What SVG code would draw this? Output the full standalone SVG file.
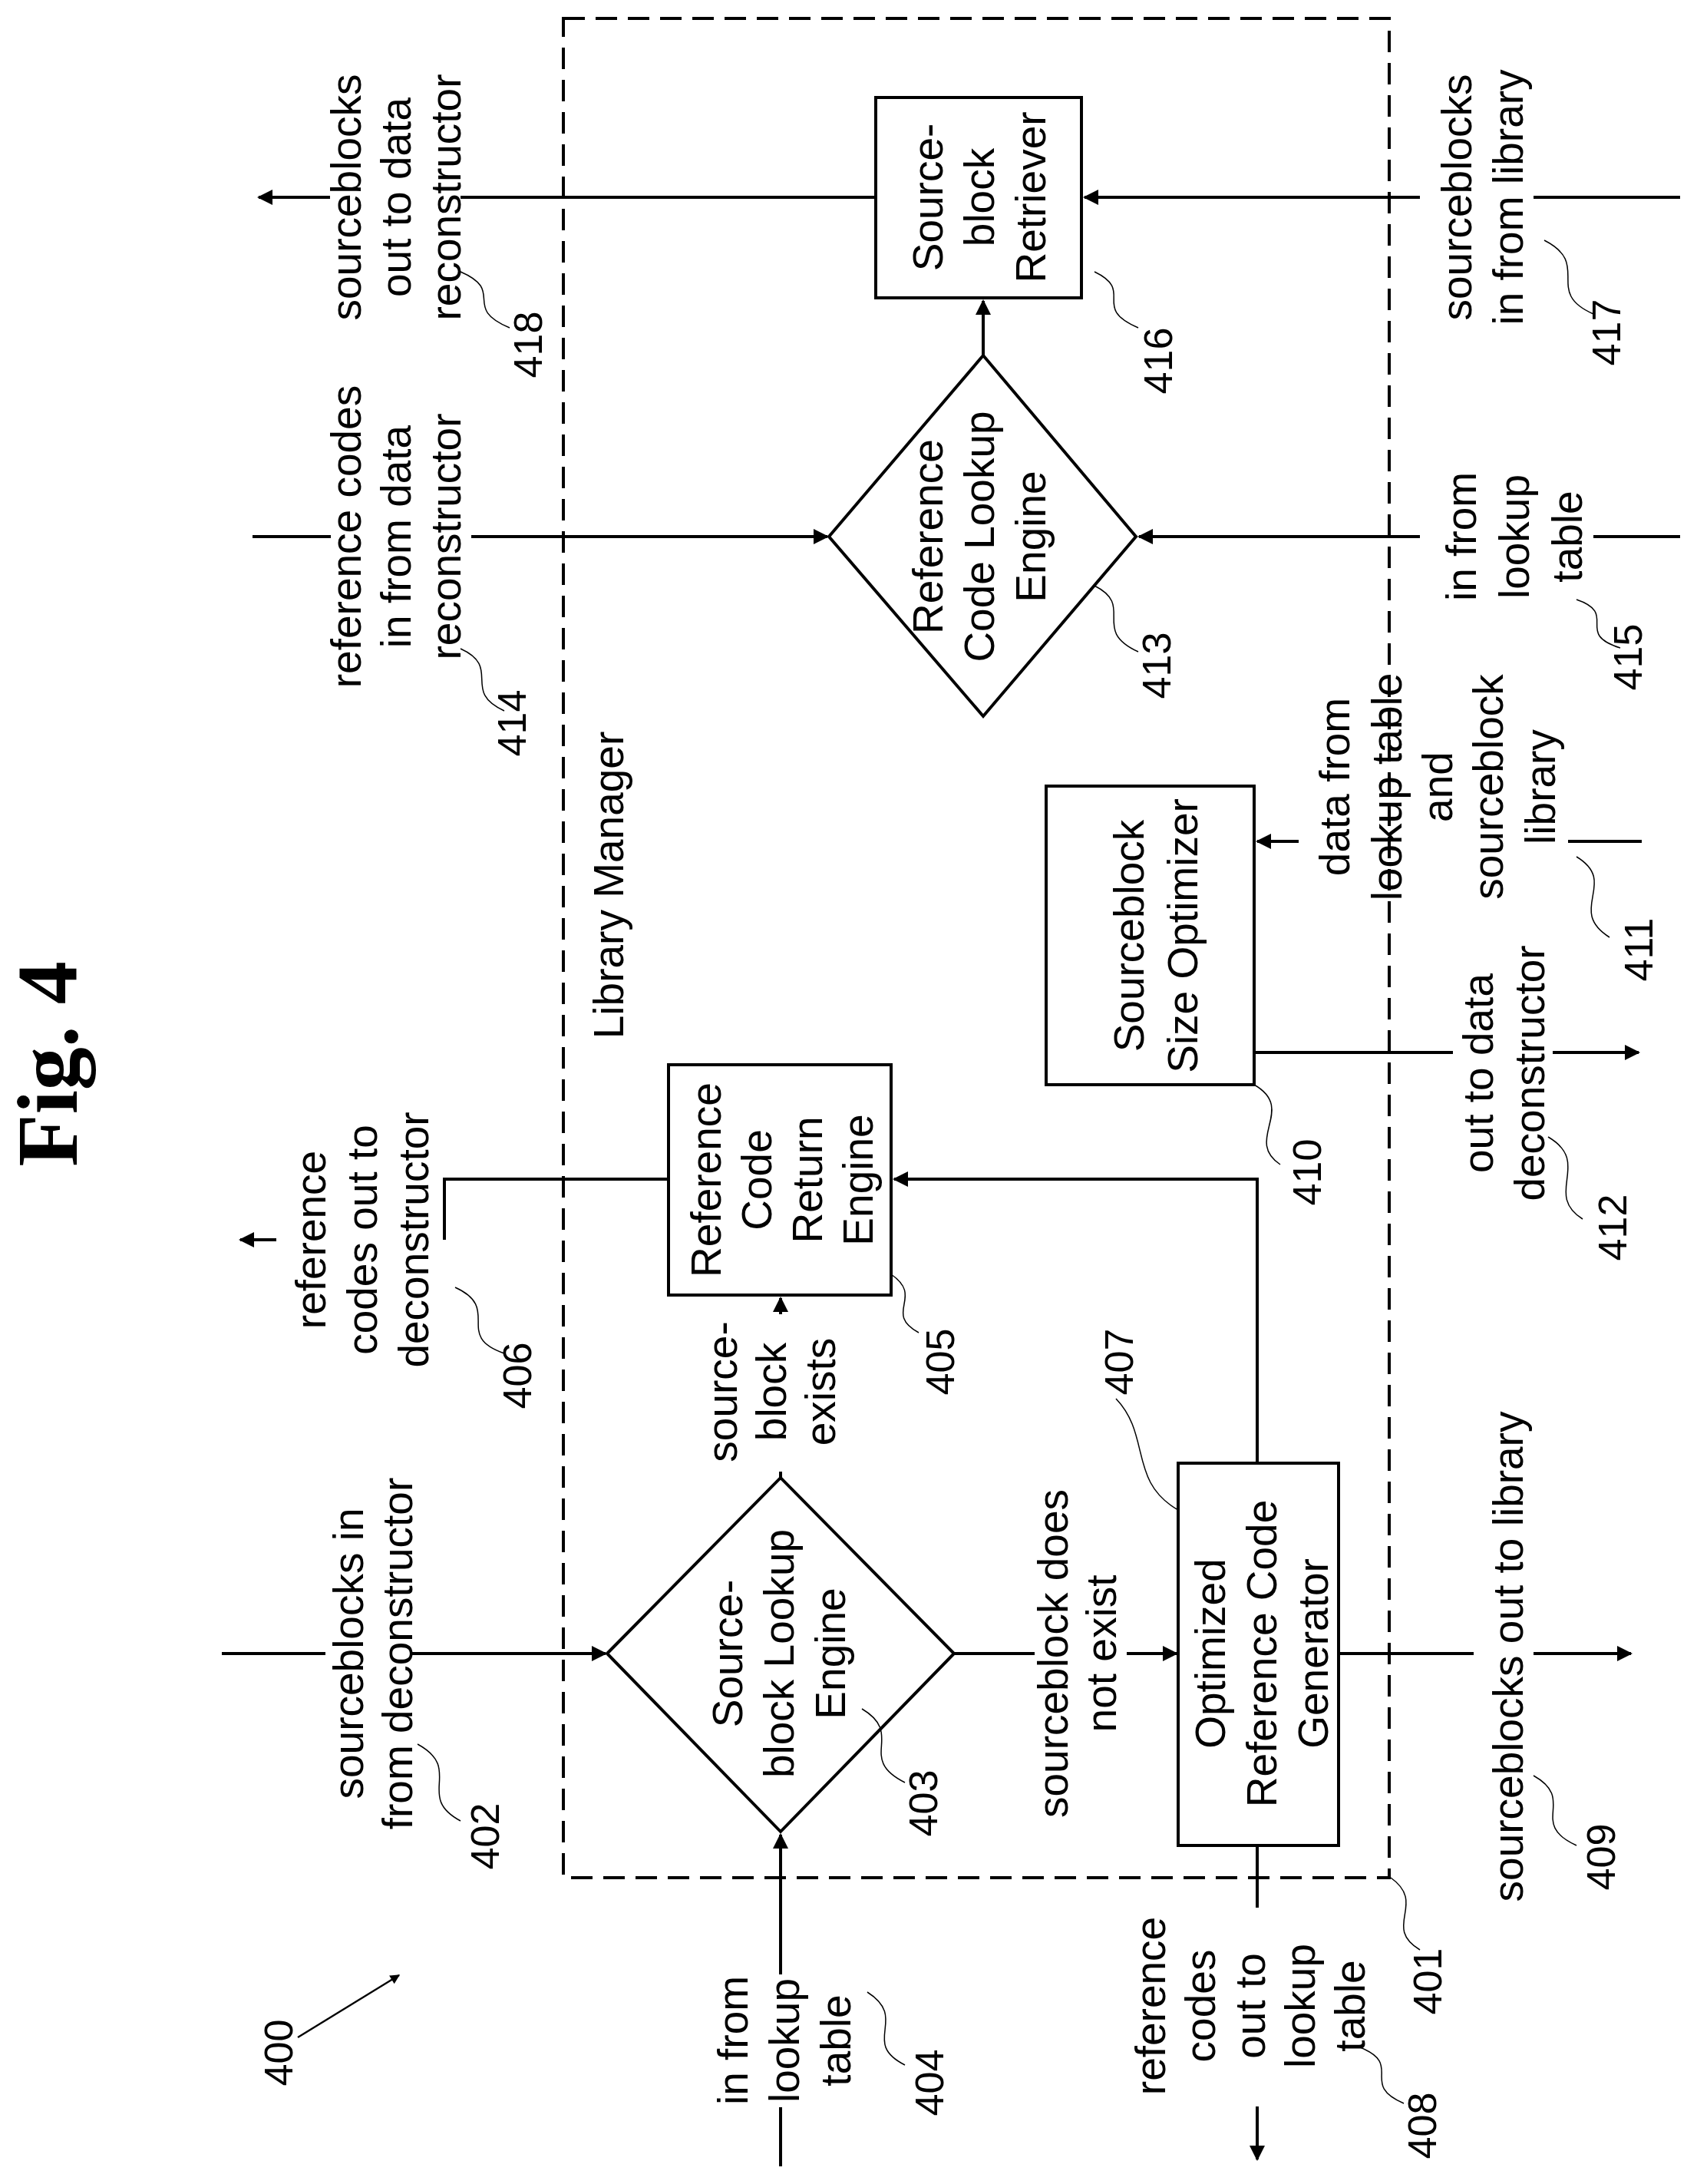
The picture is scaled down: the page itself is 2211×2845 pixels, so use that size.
<svg xmlns="http://www.w3.org/2000/svg" width="2211" height="2845" viewBox="0 0 2211 2845">
<style>
text{font-family:"Liberation Sans",Arial,sans-serif;font-size:55px;fill:#000;text-anchor:middle}
.num{font-size:52px}
.fig{font-family:"Liberation Serif",serif;font-weight:bold;font-size:112px}
.box{fill:#fff;stroke:#000;stroke-width:4}
.c{fill:none;stroke:#000;stroke-width:4}
.a{fill:none;stroke:#000;stroke-width:4;marker-end:url(#ah)}
.sq{fill:none;stroke:#000;stroke-width:1.5}
.dash{fill:none;stroke:#000;stroke-width:4;stroke-dasharray:28,14}
</style>
<defs>
<marker id="ah" viewBox="0 0 10 10" refX="9" refY="5" markerWidth="6" markerHeight="5" orient="auto" markerUnits="strokeWidth">
<path d="M0,0 L10,5 L0,10 z" fill="#000"/>
</marker>
</defs>
<rect width="2211" height="2845" fill="#fff"/>
<text class="fig" transform="translate(100,1386) rotate(-90)">Fig. 4</text>
<g id="n401">
<rect class="dash" x="734" y="24" width="1076" height="2422"/>
<text transform="translate(812,1153) rotate(-90)">Library Manager</text>
<text class="num" transform="translate(1878,2581) rotate(-90)">401</text>
<path class="sq" d="M1812,2446 C1860,2480 1800,2510 1850,2540"/>
</g>
<g id="connectors">
<path class="c" d="M1141,257 L600,257"/><path class="a" d="M430,257 L337,257"/>
<path class="c" d="M2189,257 L1998,257"/><path class="a" d="M1850,257 L1413,257"/>
<path class="a" d="M1281,463 L1281,392"/>
<path class="c" d="M329,699 L431,699"/><path class="a" d="M614,699 L1078,699"/>
<path class="c" d="M2189,699 L2076,699"/><path class="a" d="M1850,699 L1484,699"/>
<path class="a" d="M1692,1096 L1638,1096"/><path class="c" d="M2043,1096 L2139,1096"/>
<path class="c" d="M1634,1371 L1893,1371"/><path class="a" d="M2023,1371 L2135,1371"/>
<path class="c" d="M871,1536 L579,1536 L579,1615"/><path class="a" d="M360,1615 L313,1615"/>
<path class="a" d="M1638,1906 L1638,1536 L1165,1536"/>
<path class="c" d="M1017,1925 L1017,1917"/><path class="a" d="M1017,1712 L1017,1691"/>
<path class="c" d="M289,2154 L424,2154"/><path class="a" d="M537,2154 L789,2154"/>
<path class="c" d="M1243,2154 L1348,2154"/><path class="a" d="M1468,2154 L1533,2154"/>
<path class="c" d="M1744,2154 L1920,2154"/><path class="a" d="M1998,2154 L2125,2154"/>
<path class="a" d="M1017,2572 L1017,2390"/><path class="c" d="M1017,2822 L1017,2745"/>
<path class="c" d="M1638,2404 L1638,2485"/><path class="a" d="M1638,2744 L1638,2813"/>
<path class="c" d="M388,2654 L520,2573" style="stroke-width:2.5;marker-end:url(#ah)"/>
</g>
<g id="n416">
<rect class="box" x="1141" y="127" width="268" height="261"/>
<text transform="translate(1228,257) rotate(-90)"><tspan x="0">Source-</tspan><tspan x="0" dy="67">block</tspan><tspan x="0" dy="67">Retriever</tspan></text>
<text class="num" transform="translate(1527,470) rotate(-90)">416</text>
<path class="sq" d="M1426,354 C1480,380 1420,400 1483,427"/>
</g>
<g id="n413">
<polygon class="box" points="1080,699 1281,463 1480,699 1281,933"/>
<text transform="translate(1228,699) rotate(-90)"><tspan x="0">Reference</tspan><tspan x="0" dy="67">Code Lookup</tspan><tspan x="0" dy="67">Engine</tspan></text>
<text class="num" transform="translate(1525,867) rotate(-90)">413</text>
<path class="sq" d="M1426,763 C1480,790 1420,820 1483,849"/>
</g>
<g id="n418">
<text transform="translate(470,257) rotate(-90)"><tspan x="0">sourceblocks</tspan><tspan x="0" dy="65">out to data</tspan><tspan x="0" dy="65">reconstructor</tspan></text>
<text class="num" transform="translate(706,449) rotate(-90)">418</text>
<path class="sq" d="M600,354 C660,380 600,400 664,427"/>
</g>
<g id="n414">
<text transform="translate(470,699) rotate(-90)"><tspan x="0">reference codes</tspan><tspan x="0" dy="65">in from data</tspan><tspan x="0" dy="65">reconstructor</tspan></text>
<text class="num" transform="translate(685,942) rotate(-90)">414</text>
<path class="sq" d="M600,845 C655,870 600,900 657,926"/>
</g>
<g id="n415">
<text transform="translate(1923,699) rotate(-90)"><tspan x="0">in from</tspan><tspan x="0" dy="69">lookup</tspan><tspan x="0" dy="69">table</tspan></text>
<text class="num" transform="translate(2139,856) rotate(-90)">415</text>
<path class="sq" d="M2054,781 C2110,800 2050,825 2111,844"/>
</g>
<g id="n417">
<text transform="translate(1917,257) rotate(-90)"><tspan x="0">sourceblocks</tspan><tspan x="0" dy="67">in from library</tspan></text>
<text class="num" transform="translate(2111,433) rotate(-90)">417</text>
<path class="sq" d="M2012,313 C2075,345 2010,380 2076,409"/>
</g>
<g id="n410">
<rect class="box" x="1363" y="1024" width="271" height="389"/>
<text transform="translate(1490,1219) rotate(-90)"><tspan x="0">Sourceblock</tspan><tspan x="0" dy="70">Size Optimizer</tspan></text>
<text class="num" transform="translate(1721,1527) rotate(-90)">410</text>
<path class="sq" d="M1634,1413 C1690,1445 1620,1485 1668,1517"/>
</g>
<g id="n411">
<text transform="translate(1758,1025) rotate(-90)"><tspan x="0">data from</tspan><tspan x="0" dy="68">lookup table</tspan><tspan x="0" dy="66">and</tspan><tspan x="0" dy="66">sourceblock</tspan><tspan x="0" dy="68">library</tspan></text>
<text class="num" transform="translate(2153,1237) rotate(-90)">411</text>
<path class="sq" d="M2054,1116 C2110,1150 2040,1185 2097,1221"/>
</g>
<g id="n412">
<text transform="translate(1945,1398) rotate(-90)"><tspan x="0">out to data</tspan><tspan x="0" dy="67">deconstructor</tspan></text>
<text class="num" transform="translate(2119,1599) rotate(-90)">412</text>
<path class="sq" d="M2017,1481 C2075,1515 2010,1555 2062,1588"/>
</g>
<g id="n405">
<rect class="box" x="871" y="1387" width="290" height="300"/>
<text transform="translate(939,1537) rotate(-90)"><tspan x="0">Reference</tspan><tspan x="0" dy="66">Code</tspan><tspan x="0" dy="66">Return</tspan><tspan x="0" dy="66">Engine</tspan></text>
<text class="num" transform="translate(1243,1774) rotate(-90)">405</text>
<path class="sq" d="M1161,1660 C1205,1690 1150,1710 1197,1736"/>
</g>
<g id="n406">
<text transform="translate(424,1615) rotate(-90)"><tspan x="0">reference</tspan><tspan x="0" dy="67">codes out to</tspan><tspan x="0" dy="67">deconstructor</tspan></text>
<text class="num" transform="translate(692,1792) rotate(-90)">406</text>
<path class="sq" d="M593,1677 C655,1705 590,1740 657,1763"/>
</g>
<g id="n403">
<polygon class="box" points="791,2154 1017,1925 1243,2154 1017,2386"/>
<text transform="translate(967,2154) rotate(-90)"><tspan x="0">Source-</tspan><tspan x="0" dy="67">block Lookup</tspan><tspan x="0" dy="67">Engine</tspan></text>
<text class="num" transform="translate(1221,2349) rotate(-90)">403</text>
<path class="sq" d="M1123,2226 C1180,2260 1115,2290 1179,2322"/>
</g>
<g id="lbl-exists">
<text transform="translate(960,1813) rotate(-90)"><tspan x="0">source-</tspan><tspan x="0" dy="64">block</tspan><tspan x="0" dy="64">exists</tspan></text>
</g>
<g id="n402">
<text transform="translate(473,2154) rotate(-90)"><tspan x="0">sourceblocks in</tspan><tspan x="0" dy="64">from deconstructor</tspan></text>
<text class="num" transform="translate(650,2392) rotate(-90)">402</text>
<path class="sq" d="M544,2272 C605,2305 540,2340 600,2372"/>
</g>
<g id="n404">
<text transform="translate(974,2658) rotate(-90)"><tspan x="0">in from</tspan><tspan x="0" dy="67">lookup</tspan><tspan x="0" dy="67">table</tspan></text>
<text class="num" transform="translate(1229,2713) rotate(-90)">404</text>
<path class="sq" d="M1130,2595 C1185,2630 1120,2660 1179,2690"/>
</g>
<g id="lbl-notexist">
<text transform="translate(1391,2154) rotate(-90)"><tspan x="0">sourceblock does</tspan><tspan x="0" dy="63">not exist</tspan></text>
</g>
<g id="n407">
<rect class="box" x="1535" y="1906" width="209" height="498"/>
<text transform="translate(1596,2154) rotate(-90)"><tspan x="0">Optimized</tspan><tspan x="0" dy="67">Reference Code</tspan><tspan x="0" dy="67">Generator</tspan></text>
<text class="num" transform="translate(1476,1774) rotate(-90)">407</text>
<path class="sq" d="M1535,1967 C1470,1930 1500,1870 1454,1822"/>
</g>
<g id="n409">
<text transform="translate(1984,2158) rotate(-90)">sourceblocks out to library</text>
<text class="num" transform="translate(2104,2419) rotate(-90)">409</text>
<path class="sq" d="M1998,2313 C2055,2345 1990,2375 2054,2404"/>
</g>
<g id="n408">
<text transform="translate(1518,2613) rotate(-90)"><tspan x="0">reference</tspan><tspan x="0" dy="65">codes</tspan><tspan x="0" dy="65">out to</tspan><tspan x="0" dy="65">lookup</tspan><tspan x="0" dy="65">table</tspan></text>
<text class="num" transform="translate(1871,2769) rotate(-90)">408</text>
<path class="sq" d="M1772,2667 C1830,2690 1770,2715 1829,2740"/>
</g>
<g id="n400">
<text class="num" transform="translate(381,2674) rotate(-90)">400</text>
</g>
</svg>
